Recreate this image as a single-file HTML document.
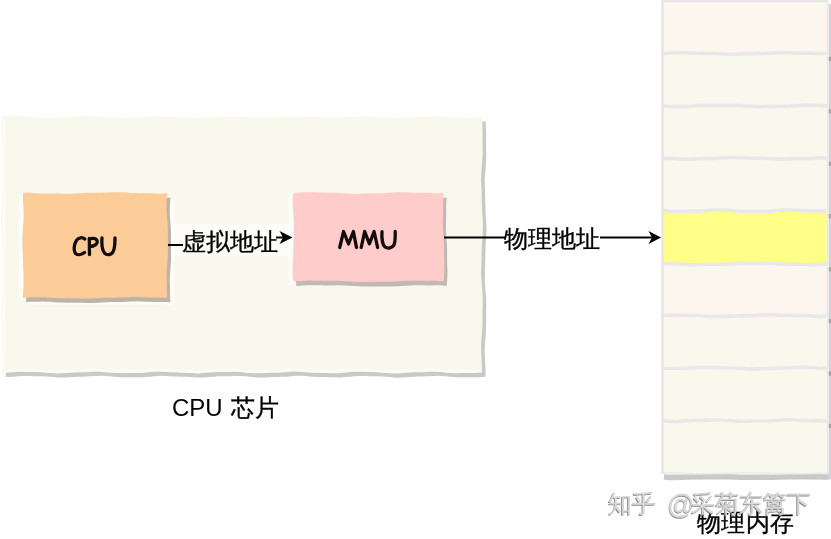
<!DOCTYPE html>
<html><head><meta charset="utf-8">
<style>
html,body{margin:0;padding:0;background:#fff;}
body{width:831px;height:539px;overflow:hidden;position:relative;font-family:"Liberation Sans",sans-serif;}
svg{position:absolute;left:0;top:0;}
.t{position:absolute;white-space:nowrap;color:#000;line-height:1;will-change:transform;}
.s{-webkit-text-stroke:0.35px #000;}
.wm{color:#dcdcdc;text-shadow:-0.6px 0.6px 0.6px #8a8a8a;-webkit-text-stroke:0.3px #bdbdbd;}
</style></head><body>
<svg width="831" height="539" viewBox="0 0 831 539">
  <path d="M2.00 117.00 L6.00 116.61 L10.00 116.16 L14.00 116.05 L18.00 116.12 L22.00 116.36 L26.00 116.69 L30.00 117.03 L34.00 117.32 L38.00 117.51 L42.00 117.59 L46.00 117.60 L50.00 117.56 L54.00 117.51 L58.00 117.45 L62.00 117.36 L66.00 117.23 L70.00 117.02 L74.00 116.75 L78.00 116.46 L82.00 116.22 L86.00 116.09 L90.00 116.13 L94.00 116.34 L98.00 116.67 L102.00 117.06 L106.00 117.42 L110.00 117.66 L114.00 117.77 L118.00 117.74 L122.00 117.61 L126.00 117.45 L130.00 117.29 L134.00 117.15 L138.00 117.01 L142.00 116.86 L146.00 116.69 L150.00 116.49 L154.00 116.31 L158.00 116.20 L162.00 116.21 L166.00 116.38 L170.00 116.68 L174.00 117.06 L178.00 117.44 L182.00 117.74 L186.00 117.88 L190.00 117.86 L194.00 117.69 L198.00 117.45 L202.00 117.18 L206.00 116.95 L210.00 116.78 L214.00 116.67 L218.00 116.57 L222.00 116.49 L226.00 116.40 L230.00 116.35 L234.00 116.37 L238.00 116.49 L242.00 116.73 L246.00 117.07 L250.00 117.43 L254.00 117.74 L258.00 117.92 L262.00 117.93 L266.00 117.76 L270.00 117.47 L274.00 117.13 L278.00 116.82 L282.00 116.59 L286.00 116.46 L290.00 116.42 L294.00 116.43 L298.00 116.46 L302.00 116.50 L306.00 116.57 L310.00 116.67 L314.00 116.85 L318.00 117.11 L322.00 117.41 L326.00 117.69 L330.00 117.88 L334.00 117.92 L338.00 117.78 L342.00 117.50 L346.00 117.12 L350.00 116.74 L354.00 116.45 L358.00 116.28 L362.00 116.25 L366.00 116.33 L370.00 116.47 L374.00 116.63 L378.00 116.77 L382.00 116.90 L386.00 117.04 L390.00 117.21 L394.00 117.41 L398.00 117.62 L402.00 117.78 L406.00 117.83 L410.00 117.73 L414.00 117.48 L418.00 117.12 L422.00 116.73 L426.00 116.39 L430.00 116.17 L434.00 116.12 L438.00 116.23 L442.00 116.44 L446.00 116.69 L450.00 116.93 L454.00 117.12 L458.00 117.26 L462.00 117.36 L466.00 117.46 L470.00 117.56 L474.00 117.65 L478.00 117.45 L482.00 117.00 L482.12 121.06 L482.42 125.11 L482.53 129.17 L482.55 133.22 L482.54 137.28 L482.55 141.33 L482.60 145.39 L482.64 149.44 L482.62 153.50 L482.48 157.56 L482.21 161.61 L481.85 165.67 L481.49 169.72 L481.24 173.78 L481.15 177.83 L481.21 181.89 L481.36 185.94 L481.53 190.00 L481.66 194.06 L481.74 198.11 L481.81 202.17 L481.93 206.22 L482.14 210.28 L482.41 214.33 L482.70 218.39 L482.90 222.44 L482.94 226.50 L482.81 230.56 L482.55 234.61 L482.25 238.67 L481.98 242.72 L481.80 246.78 L481.71 250.83 L481.65 254.89 L481.57 258.94 L481.45 263.00 L481.30 267.06 L481.19 271.11 L481.21 275.17 L481.38 279.22 L481.68 283.28 L482.06 287.33 L482.39 291.39 L482.61 295.44 L482.69 299.50 L482.66 303.56 L482.59 307.61 L482.53 311.67 L482.51 315.72 L482.50 319.78 L482.44 323.83 L482.27 327.89 L482.00 331.94 L481.65 336.00 L481.33 340.06 L481.13 344.11 L481.09 348.17 L481.21 352.22 L481.43 356.28 L481.65 360.33 L481.83 364.39 L481.96 368.44 L482.00 372.50 L478.00 372.73 L474.00 372.99 L470.00 373.01 L466.00 373.03 L462.00 373.10 L458.00 373.17 L454.00 373.14 L450.00 372.92 L446.00 372.53 L442.00 372.08 L438.00 371.76 L434.00 371.65 L430.00 371.76 L426.00 371.96 L422.00 372.14 L418.00 372.25 L414.00 372.35 L410.00 372.52 L406.00 372.81 L402.00 373.15 L398.00 373.40 L394.00 373.43 L390.00 373.21 L386.00 372.84 L382.00 372.47 L378.00 372.23 L374.00 372.12 L370.00 372.07 L366.00 371.98 L362.00 371.85 L358.00 371.74 L354.00 371.80 L350.00 372.06 L346.00 372.49 L342.00 372.92 L338.00 373.21 L334.00 373.27 L330.00 373.17 L326.00 373.02 L322.00 372.92 L318.00 372.86 L314.00 372.75 L310.00 372.53 L306.00 372.18 L302.00 371.81 L298.00 371.58 L294.00 371.59 L290.00 371.83 L286.00 372.18 L282.00 372.48 L278.00 372.67 L274.00 372.77 L270.00 372.87 L266.00 373.03 L262.00 373.22 L258.00 373.33 L254.00 373.24 L250.00 372.93 L246.00 372.49 L242.00 372.09 L238.00 371.85 L234.00 371.81 L230.00 371.89 L226.00 371.97 L222.00 372.00 L218.00 372.03 L214.00 372.16 L210.00 372.44 L206.00 372.84 L202.00 373.22 L198.00 373.42 L194.00 373.37 L190.00 373.12 L186.00 372.82 L182.00 372.58 L178.00 372.44 L174.00 372.34 L170.00 372.18 L166.00 371.95 L162.00 371.71 L158.00 371.61 L154.00 371.74 L150.00 372.09 L146.00 372.52 L142.00 372.88 L138.00 373.07 L134.00 373.09 L130.00 373.06 L126.00 373.05 L122.00 373.08 L118.00 373.07 L114.00 372.90 L110.00 372.56 L106.00 372.13 L102.00 371.77 L98.00 371.61 L94.00 371.69 L90.00 371.92 L86.00 372.16 L82.00 372.33 L78.00 372.44 L74.00 372.57 L70.00 372.79 L66.00 373.09 L62.00 373.35 L58.00 373.42 L54.00 373.25 L50.00 372.89 L46.00 372.48 L42.00 372.18 L38.00 372.03 L34.00 372.00 L30.00 371.97 L26.00 371.90 L22.00 371.82 L18.00 371.85 L14.00 372.06 L10.00 372.45 L6.00 372.76 L2.00 372.50 L2.36 368.44 L2.58 364.39 L2.63 360.33 L2.57 356.28 L2.36 352.22 L2.03 348.17 L1.69 344.11 L1.46 340.06 L1.38 336.00 L1.41 331.94 L1.46 327.89 L1.45 323.83 L1.34 319.78 L1.23 315.72 L1.21 311.67 L1.36 307.61 L1.65 303.56 L1.98 299.50 L2.25 295.44 L2.38 291.39 L2.40 287.33 L2.39 283.28 L2.46 279.22 L2.61 275.17 L2.80 271.11 L2.91 267.06 L2.85 263.00 L2.63 258.94 L2.32 254.89 L2.06 250.83 L1.90 246.78 L1.85 242.72 L1.83 238.67 L1.74 234.61 L1.55 230.56 L1.30 226.50 L1.10 222.44 L1.06 218.39 L1.19 214.33 L1.44 210.28 L1.68 206.22 L1.82 202.17 L1.87 198.11 L1.90 194.06 L1.99 190.00 L2.20 185.94 L2.50 181.89 L2.77 177.83 L2.91 173.78 L2.87 169.72 L2.71 165.67 L2.52 161.61 L2.40 157.56 L2.37 153.50 L2.37 149.44 L2.31 145.39 L2.10 141.33 L1.79 137.28 L1.46 133.22 L1.24 129.17 L1.19 125.11 L1.51 121.06 Z" fill="#c9c9c5" transform="translate(3.6 4.2)"/>
  <path d="M2.00 117.00 L6.00 116.61 L10.00 116.16 L14.00 116.05 L18.00 116.12 L22.00 116.36 L26.00 116.69 L30.00 117.03 L34.00 117.32 L38.00 117.51 L42.00 117.59 L46.00 117.60 L50.00 117.56 L54.00 117.51 L58.00 117.45 L62.00 117.36 L66.00 117.23 L70.00 117.02 L74.00 116.75 L78.00 116.46 L82.00 116.22 L86.00 116.09 L90.00 116.13 L94.00 116.34 L98.00 116.67 L102.00 117.06 L106.00 117.42 L110.00 117.66 L114.00 117.77 L118.00 117.74 L122.00 117.61 L126.00 117.45 L130.00 117.29 L134.00 117.15 L138.00 117.01 L142.00 116.86 L146.00 116.69 L150.00 116.49 L154.00 116.31 L158.00 116.20 L162.00 116.21 L166.00 116.38 L170.00 116.68 L174.00 117.06 L178.00 117.44 L182.00 117.74 L186.00 117.88 L190.00 117.86 L194.00 117.69 L198.00 117.45 L202.00 117.18 L206.00 116.95 L210.00 116.78 L214.00 116.67 L218.00 116.57 L222.00 116.49 L226.00 116.40 L230.00 116.35 L234.00 116.37 L238.00 116.49 L242.00 116.73 L246.00 117.07 L250.00 117.43 L254.00 117.74 L258.00 117.92 L262.00 117.93 L266.00 117.76 L270.00 117.47 L274.00 117.13 L278.00 116.82 L282.00 116.59 L286.00 116.46 L290.00 116.42 L294.00 116.43 L298.00 116.46 L302.00 116.50 L306.00 116.57 L310.00 116.67 L314.00 116.85 L318.00 117.11 L322.00 117.41 L326.00 117.69 L330.00 117.88 L334.00 117.92 L338.00 117.78 L342.00 117.50 L346.00 117.12 L350.00 116.74 L354.00 116.45 L358.00 116.28 L362.00 116.25 L366.00 116.33 L370.00 116.47 L374.00 116.63 L378.00 116.77 L382.00 116.90 L386.00 117.04 L390.00 117.21 L394.00 117.41 L398.00 117.62 L402.00 117.78 L406.00 117.83 L410.00 117.73 L414.00 117.48 L418.00 117.12 L422.00 116.73 L426.00 116.39 L430.00 116.17 L434.00 116.12 L438.00 116.23 L442.00 116.44 L446.00 116.69 L450.00 116.93 L454.00 117.12 L458.00 117.26 L462.00 117.36 L466.00 117.46 L470.00 117.56 L474.00 117.65 L478.00 117.45 L482.00 117.00 L482.12 121.06 L482.42 125.11 L482.53 129.17 L482.55 133.22 L482.54 137.28 L482.55 141.33 L482.60 145.39 L482.64 149.44 L482.62 153.50 L482.48 157.56 L482.21 161.61 L481.85 165.67 L481.49 169.72 L481.24 173.78 L481.15 177.83 L481.21 181.89 L481.36 185.94 L481.53 190.00 L481.66 194.06 L481.74 198.11 L481.81 202.17 L481.93 206.22 L482.14 210.28 L482.41 214.33 L482.70 218.39 L482.90 222.44 L482.94 226.50 L482.81 230.56 L482.55 234.61 L482.25 238.67 L481.98 242.72 L481.80 246.78 L481.71 250.83 L481.65 254.89 L481.57 258.94 L481.45 263.00 L481.30 267.06 L481.19 271.11 L481.21 275.17 L481.38 279.22 L481.68 283.28 L482.06 287.33 L482.39 291.39 L482.61 295.44 L482.69 299.50 L482.66 303.56 L482.59 307.61 L482.53 311.67 L482.51 315.72 L482.50 319.78 L482.44 323.83 L482.27 327.89 L482.00 331.94 L481.65 336.00 L481.33 340.06 L481.13 344.11 L481.09 348.17 L481.21 352.22 L481.43 356.28 L481.65 360.33 L481.83 364.39 L481.96 368.44 L482.00 372.50 L478.00 372.73 L474.00 372.99 L470.00 373.01 L466.00 373.03 L462.00 373.10 L458.00 373.17 L454.00 373.14 L450.00 372.92 L446.00 372.53 L442.00 372.08 L438.00 371.76 L434.00 371.65 L430.00 371.76 L426.00 371.96 L422.00 372.14 L418.00 372.25 L414.00 372.35 L410.00 372.52 L406.00 372.81 L402.00 373.15 L398.00 373.40 L394.00 373.43 L390.00 373.21 L386.00 372.84 L382.00 372.47 L378.00 372.23 L374.00 372.12 L370.00 372.07 L366.00 371.98 L362.00 371.85 L358.00 371.74 L354.00 371.80 L350.00 372.06 L346.00 372.49 L342.00 372.92 L338.00 373.21 L334.00 373.27 L330.00 373.17 L326.00 373.02 L322.00 372.92 L318.00 372.86 L314.00 372.75 L310.00 372.53 L306.00 372.18 L302.00 371.81 L298.00 371.58 L294.00 371.59 L290.00 371.83 L286.00 372.18 L282.00 372.48 L278.00 372.67 L274.00 372.77 L270.00 372.87 L266.00 373.03 L262.00 373.22 L258.00 373.33 L254.00 373.24 L250.00 372.93 L246.00 372.49 L242.00 372.09 L238.00 371.85 L234.00 371.81 L230.00 371.89 L226.00 371.97 L222.00 372.00 L218.00 372.03 L214.00 372.16 L210.00 372.44 L206.00 372.84 L202.00 373.22 L198.00 373.42 L194.00 373.37 L190.00 373.12 L186.00 372.82 L182.00 372.58 L178.00 372.44 L174.00 372.34 L170.00 372.18 L166.00 371.95 L162.00 371.71 L158.00 371.61 L154.00 371.74 L150.00 372.09 L146.00 372.52 L142.00 372.88 L138.00 373.07 L134.00 373.09 L130.00 373.06 L126.00 373.05 L122.00 373.08 L118.00 373.07 L114.00 372.90 L110.00 372.56 L106.00 372.13 L102.00 371.77 L98.00 371.61 L94.00 371.69 L90.00 371.92 L86.00 372.16 L82.00 372.33 L78.00 372.44 L74.00 372.57 L70.00 372.79 L66.00 373.09 L62.00 373.35 L58.00 373.42 L54.00 373.25 L50.00 372.89 L46.00 372.48 L42.00 372.18 L38.00 372.03 L34.00 372.00 L30.00 371.97 L26.00 371.90 L22.00 371.82 L18.00 371.85 L14.00 372.06 L10.00 372.45 L6.00 372.76 L2.00 372.50 L2.36 368.44 L2.58 364.39 L2.63 360.33 L2.57 356.28 L2.36 352.22 L2.03 348.17 L1.69 344.11 L1.46 340.06 L1.38 336.00 L1.41 331.94 L1.46 327.89 L1.45 323.83 L1.34 319.78 L1.23 315.72 L1.21 311.67 L1.36 307.61 L1.65 303.56 L1.98 299.50 L2.25 295.44 L2.38 291.39 L2.40 287.33 L2.39 283.28 L2.46 279.22 L2.61 275.17 L2.80 271.11 L2.91 267.06 L2.85 263.00 L2.63 258.94 L2.32 254.89 L2.06 250.83 L1.90 246.78 L1.85 242.72 L1.83 238.67 L1.74 234.61 L1.55 230.56 L1.30 226.50 L1.10 222.44 L1.06 218.39 L1.19 214.33 L1.44 210.28 L1.68 206.22 L1.82 202.17 L1.87 198.11 L1.90 194.06 L1.99 190.00 L2.20 185.94 L2.50 181.89 L2.77 177.83 L2.91 173.78 L2.87 169.72 L2.71 165.67 L2.52 161.61 L2.40 157.56 L2.37 153.50 L2.37 149.44 L2.31 145.39 L2.10 141.33 L1.79 137.28 L1.46 133.22 L1.24 129.17 L1.19 125.11 L1.51 121.06 Z" fill="#f9f8ed"/>
  <rect x="2" y="119" width="3.5" height="251" fill="#fcfbf5" opacity="0.8"/>
  <path d="M4.00 370.80 L8.00 370.57 L12.00 370.31 L16.00 370.29 L20.00 370.27 L24.00 370.20 L28.00 370.13 L32.00 370.16 L36.00 370.38 L40.00 370.77 L44.00 371.22 L48.00 371.54 L52.00 371.65 L56.00 371.54 L60.00 371.34 L64.00 371.16 L68.00 371.05 L72.00 370.95 L76.00 370.78 L80.00 370.49 L84.00 370.15 L88.00 369.90 L92.00 369.87 L96.00 370.09 L100.00 370.46 L104.00 370.83 L108.00 371.07 L112.00 371.18 L116.00 371.23 L120.00 371.32 L124.00 371.45 L128.00 371.56 L132.00 371.50 L136.00 371.24 L140.00 370.81 L144.00 370.38 L148.00 370.09 L152.00 370.03 L156.00 370.13 L160.00 370.28 L164.00 370.38 L168.00 370.44 L172.00 370.55 L176.00 370.77 L180.00 371.12 L184.00 371.49 L188.00 371.72 L192.00 371.71 L196.00 371.47 L200.00 371.12 L204.00 370.82 L208.00 370.63 L212.00 370.53 L216.00 370.43 L220.00 370.27 L224.00 370.08 L228.00 369.97 L232.00 370.06 L236.00 370.37 L240.00 370.81 L244.00 371.21 L248.00 371.45 L252.00 371.49 L256.00 371.41 L260.00 371.33 L264.00 371.30 L268.00 371.27 L272.00 371.14 L276.00 370.86 L280.00 370.46 L284.00 370.08 L288.00 369.88 L292.00 369.93 L296.00 370.18 L300.00 370.48 L304.00 370.72 L308.00 370.86 L312.00 370.96 L316.00 371.12 L320.00 371.35 L324.00 371.59 L328.00 371.69 L332.00 371.56 L336.00 371.21 L340.00 370.78 L344.00 370.42 L348.00 370.23 L352.00 370.21 L356.00 370.24 L360.00 370.25 L364.00 370.22 L368.00 370.23 L372.00 370.40 L376.00 370.74 L380.00 371.17 L384.00 371.53 L388.00 371.69 L392.00 371.61 L396.00 371.38 L400.00 371.14 L404.00 370.97 L408.00 370.86 L412.00 370.73 L416.00 370.51 L420.00 370.21 L424.00 369.95 L428.00 369.88 L432.00 370.05 L436.00 370.41 L440.00 370.82 L444.00 371.12 L448.00 371.27 L452.00 371.30 L456.00 371.33 L460.00 371.40 L464.00 371.48 L468.00 371.45 L472.00 371.24 L476.00 370.84 L480.00 370.80" stroke="#fcfbf5" stroke-width="2.6" fill="none" opacity="0.8"/>
  <rect x="167.5" y="199" width="7" height="107" fill="#fdfcf6"/>
  <rect x="27" y="302" width="147.5" height="2.5" fill="#fdfcf6"/>
  <rect x="19" y="193" width="4" height="105" fill="#fdfcf6"/>
  <path d="M23.00 193.00 L27.01 192.73 L31.02 192.86 L35.02 193.16 L39.03 193.41 L43.04 193.54 L47.05 193.55 L51.06 193.50 L55.07 193.48 L59.08 193.53 L63.08 193.63 L67.09 193.71 L71.10 193.69 L75.11 193.53 L79.12 193.27 L83.12 192.98 L87.13 192.76 L91.14 192.65 L95.15 192.64 L99.16 192.64 L103.17 192.59 L107.18 192.47 L111.18 192.30 L115.19 192.19 L119.20 192.21 L123.21 192.37 L127.22 192.63 L131.23 192.88 L135.23 193.05 L139.24 193.13 L143.25 193.14 L147.26 193.18 L151.27 193.31 L155.28 193.50 L159.28 193.71 L163.29 193.56 L167.30 193.00 L166.97 197.03 L166.68 201.06 L166.58 205.09 L166.60 209.12 L166.77 213.15 L167.08 217.18 L167.42 221.22 L167.68 225.25 L167.81 229.28 L167.83 233.31 L167.79 237.34 L167.80 241.37 L167.85 245.40 L167.91 249.43 L167.90 253.46 L167.75 257.49 L167.46 261.52 L167.11 265.55 L166.82 269.58 L166.66 273.62 L166.65 277.65 L166.73 281.68 L166.81 285.71 L166.83 289.74 L166.97 293.77 L167.30 297.80 L163.29 297.70 L159.28 297.57 L155.28 297.57 L151.27 297.55 L147.26 297.45 L143.25 297.27 L139.24 297.07 L135.23 296.95 L131.23 296.99 L127.22 297.16 L123.21 297.38 L119.20 297.57 L115.19 297.65 L111.18 297.67 L107.18 297.69 L103.17 297.79 L99.16 298.01 L95.15 298.28 L91.14 298.50 L87.13 298.60 L83.12 298.55 L79.12 298.41 L75.11 298.28 L71.10 298.23 L67.09 298.25 L63.08 298.27 L59.08 298.22 L55.07 298.03 L51.06 297.75 L47.05 297.46 L43.04 297.27 L39.03 297.21 L35.03 297.25 L31.02 297.31 L27.01 297.47 L23.00 297.80 L23.01 293.77 L23.37 289.74 L23.61 285.71 L23.70 281.68 L23.65 277.65 L23.50 273.62 L23.33 269.58 L23.17 265.55 L23.02 261.52 L22.88 257.49 L22.73 253.46 L22.55 249.43 L22.39 245.40 L22.30 241.37 L22.34 237.34 L22.53 233.31 L22.86 229.28 L23.24 225.25 L23.59 221.22 L23.79 217.18 L23.81 213.15 L23.66 209.12 L23.40 205.09 L23.11 201.06 L22.91 197.03 Z" fill="#bcb4a8" transform="translate(3.2 4.4)"/>
  <path d="M23.00 193.00 L27.01 192.73 L31.02 192.86 L35.02 193.16 L39.03 193.41 L43.04 193.54 L47.05 193.55 L51.06 193.50 L55.07 193.48 L59.08 193.53 L63.08 193.63 L67.09 193.71 L71.10 193.69 L75.11 193.53 L79.12 193.27 L83.12 192.98 L87.13 192.76 L91.14 192.65 L95.15 192.64 L99.16 192.64 L103.17 192.59 L107.18 192.47 L111.18 192.30 L115.19 192.19 L119.20 192.21 L123.21 192.37 L127.22 192.63 L131.23 192.88 L135.23 193.05 L139.24 193.13 L143.25 193.14 L147.26 193.18 L151.27 193.31 L155.28 193.50 L159.28 193.71 L163.29 193.56 L167.30 193.00 L166.97 197.03 L166.68 201.06 L166.58 205.09 L166.60 209.12 L166.77 213.15 L167.08 217.18 L167.42 221.22 L167.68 225.25 L167.81 229.28 L167.83 233.31 L167.79 237.34 L167.80 241.37 L167.85 245.40 L167.91 249.43 L167.90 253.46 L167.75 257.49 L167.46 261.52 L167.11 265.55 L166.82 269.58 L166.66 273.62 L166.65 277.65 L166.73 281.68 L166.81 285.71 L166.83 289.74 L166.97 293.77 L167.30 297.80 L163.29 297.70 L159.28 297.57 L155.28 297.57 L151.27 297.55 L147.26 297.45 L143.25 297.27 L139.24 297.07 L135.23 296.95 L131.23 296.99 L127.22 297.16 L123.21 297.38 L119.20 297.57 L115.19 297.65 L111.18 297.67 L107.18 297.69 L103.17 297.79 L99.16 298.01 L95.15 298.28 L91.14 298.50 L87.13 298.60 L83.12 298.55 L79.12 298.41 L75.11 298.28 L71.10 298.23 L67.09 298.25 L63.08 298.27 L59.08 298.22 L55.07 298.03 L51.06 297.75 L47.05 297.46 L43.04 297.27 L39.03 297.21 L35.03 297.25 L31.02 297.31 L27.01 297.47 L23.00 297.80 L23.01 293.77 L23.37 289.74 L23.61 285.71 L23.70 281.68 L23.65 277.65 L23.50 273.62 L23.33 269.58 L23.17 265.55 L23.02 261.52 L22.88 257.49 L22.73 253.46 L22.55 249.43 L22.39 245.40 L22.30 241.37 L22.34 237.34 L22.53 233.31 L22.86 229.28 L23.24 225.25 L23.59 221.22 L23.79 217.18 L23.81 213.15 L23.66 209.12 L23.40 205.09 L23.11 201.06 L22.91 197.03 Z" fill="#fbcb98"/>
  <rect x="288.5" y="193" width="4.8" height="92" fill="#fdfcf6"/>
  <path d="M293.30 193.00 L297.36 192.83 L301.42 192.46 L305.49 192.24 L309.55 192.18 L313.61 192.28 L317.67 192.45 L321.74 192.62 L325.80 192.71 L329.86 192.74 L333.92 192.78 L337.98 192.91 L342.05 193.15 L346.11 193.45 L350.17 193.70 L354.23 193.81 L358.29 193.76 L362.36 193.60 L366.42 193.43 L370.48 193.32 L374.54 193.29 L378.61 193.26 L382.67 193.16 L386.73 192.95 L390.79 192.65 L394.85 192.37 L398.92 192.21 L402.98 192.21 L407.04 192.35 L411.10 192.52 L415.16 192.64 L419.23 192.69 L423.29 192.70 L427.35 192.77 L431.41 192.96 L435.48 193.24 L439.54 193.36 L443.60 193.00 L443.33 197.01 L443.09 201.03 L443.10 205.04 L443.13 209.05 L443.11 213.07 L443.01 217.08 L442.91 221.10 L442.89 225.11 L443.03 229.12 L443.31 233.14 L443.63 237.15 L443.88 241.16 L444.00 245.18 L444.02 249.19 L444.01 253.20 L444.06 257.22 L444.18 261.23 L444.32 265.25 L444.37 269.26 L444.27 273.27 L443.88 277.29 L443.60 281.30 L439.54 280.89 L435.48 280.69 L431.41 280.75 L427.35 280.80 L423.29 280.80 L419.23 280.75 L415.16 280.69 L411.10 280.70 L407.04 280.82 L402.98 281.05 L398.92 281.35 L394.85 281.62 L390.79 281.80 L386.73 281.87 L382.67 281.86 L378.61 281.81 L374.54 281.79 L370.48 281.83 L366.42 281.91 L362.36 281.95 L358.29 281.91 L354.23 281.74 L350.17 281.48 L346.11 281.18 L342.05 280.94 L337.98 280.80 L333.92 280.77 L329.86 280.80 L325.80 280.82 L321.74 280.80 L317.67 280.72 L313.61 280.63 L309.55 280.61 L305.49 280.70 L301.42 280.91 L297.36 281.23 L293.30 281.30 L292.86 277.29 L292.55 273.27 L292.59 269.26 L292.73 265.25 L292.90 261.23 L293.06 257.22 L293.18 253.20 L293.29 249.19 L293.41 245.18 L293.56 241.16 L293.75 237.15 L293.94 233.14 L294.06 229.12 L294.06 225.11 L293.91 221.10 L293.63 217.08 L293.29 213.07 L292.95 209.05 L292.72 205.04 L292.61 201.03 L292.85 197.01 Z" fill="#c2b9b4" transform="translate(3.1 4.6)"/>
  <path d="M293.30 193.00 L297.36 192.83 L301.42 192.46 L305.49 192.24 L309.55 192.18 L313.61 192.28 L317.67 192.45 L321.74 192.62 L325.80 192.71 L329.86 192.74 L333.92 192.78 L337.98 192.91 L342.05 193.15 L346.11 193.45 L350.17 193.70 L354.23 193.81 L358.29 193.76 L362.36 193.60 L366.42 193.43 L370.48 193.32 L374.54 193.29 L378.61 193.26 L382.67 193.16 L386.73 192.95 L390.79 192.65 L394.85 192.37 L398.92 192.21 L402.98 192.21 L407.04 192.35 L411.10 192.52 L415.16 192.64 L419.23 192.69 L423.29 192.70 L427.35 192.77 L431.41 192.96 L435.48 193.24 L439.54 193.36 L443.60 193.00 L443.33 197.01 L443.09 201.03 L443.10 205.04 L443.13 209.05 L443.11 213.07 L443.01 217.08 L442.91 221.10 L442.89 225.11 L443.03 229.12 L443.31 233.14 L443.63 237.15 L443.88 241.16 L444.00 245.18 L444.02 249.19 L444.01 253.20 L444.06 257.22 L444.18 261.23 L444.32 265.25 L444.37 269.26 L444.27 273.27 L443.88 277.29 L443.60 281.30 L439.54 280.89 L435.48 280.69 L431.41 280.75 L427.35 280.80 L423.29 280.80 L419.23 280.75 L415.16 280.69 L411.10 280.70 L407.04 280.82 L402.98 281.05 L398.92 281.35 L394.85 281.62 L390.79 281.80 L386.73 281.87 L382.67 281.86 L378.61 281.81 L374.54 281.79 L370.48 281.83 L366.42 281.91 L362.36 281.95 L358.29 281.91 L354.23 281.74 L350.17 281.48 L346.11 281.18 L342.05 280.94 L337.98 280.80 L333.92 280.77 L329.86 280.80 L325.80 280.82 L321.74 280.80 L317.67 280.72 L313.61 280.63 L309.55 280.61 L305.49 280.70 L301.42 280.91 L297.36 281.23 L293.30 281.30 L292.86 277.29 L292.55 273.27 L292.59 269.26 L292.73 265.25 L292.90 261.23 L293.06 257.22 L293.18 253.20 L293.29 249.19 L293.41 245.18 L293.56 241.16 L293.75 237.15 L293.94 233.14 L294.06 229.12 L294.06 225.11 L293.91 221.10 L293.63 217.08 L293.29 213.07 L292.95 209.05 L292.72 205.04 L292.61 201.03 L292.85 197.01 Z" fill="#ffcccc"/>
  <rect x="171" y="224" width="120" height="32" fill="#ffffff" opacity="0.6"/>
  <line x1="168" y1="245" x2="183" y2="245" stroke="#000" stroke-width="2"/>
  <line x1="276" y1="237.5" x2="284" y2="237.5" stroke="#000" stroke-width="2"/>
  <path d="M279.5 231 L292.5 237.5 L279.5 244 L283 237.5 Z" fill="#000"/>
  <line x1="444" y1="237.5" x2="505" y2="237.5" stroke="#000" stroke-width="2"/>
  <line x1="600" y1="237.5" x2="652" y2="237.5" stroke="#000" stroke-width="2"/>
  <path d="M648.5 231 L661 237.5 L648.5 244 L652 237.5 Z" fill="#000"/>
  <path d="M664 474.5 L828.6 474.5 L828.6 479.5 L664 479.5 Z" fill="#c9c9c9"/>
  <path d="M664.00 477.00 L668.01 477.57 L672.03 477.81 L676.04 477.65 L680.06 477.40 L684.07 477.14 L688.09 476.93 L692.10 476.80 L696.12 476.73 L700.13 476.69 L704.15 476.62 L708.16 476.52 L712.18 476.39 L716.19 476.28 L720.20 476.26 L724.22 476.36 L728.23 476.58 L732.25 476.87 L736.26 477.18 L740.28 477.42 L744.29 477.55 L748.31 477.58 L752.32 477.55 L756.34 477.51 L760.35 477.49 L764.37 477.50 L768.38 477.51 L772.40 477.47 L776.41 477.34 L780.42 477.11 L784.44 476.81 L788.45 476.52 L792.47 476.30 L796.48 476.21 L800.50 476.25 L804.51 476.38 L808.53 476.54 L812.54 476.68 L816.56 476.77 L820.57 476.83 L824.59 476.93 L828.60 477.00" stroke="#c9c9c9" stroke-width="5" fill="none"/>
  <rect x="828.6" y="4" width="2.4" height="475.5" fill="#d4d4d4"/>
  <rect x="828.6" y="56.75" width="2.4" height="4.2" fill="#a4a4a4"/>
  <rect x="828.6" y="109.20" width="2.4" height="4.2" fill="#a4a4a4"/>
  <rect x="828.6" y="161.65" width="2.4" height="4.2" fill="#a4a4a4"/>
  <rect x="828.6" y="214.10" width="2.4" height="4.2" fill="#a4a4a4"/>
  <rect x="828.6" y="267.30" width="2.4" height="4.2" fill="#a4a4a4"/>
  <rect x="828.6" y="319.00" width="2.4" height="4.2" fill="#a4a4a4"/>
  <rect x="828.6" y="371.45" width="2.4" height="4.2" fill="#a4a4a4"/>
  <rect x="828.6" y="423.90" width="2.4" height="4.2" fill="#a4a4a4"/>
  <rect x="826.2" y="0" width="2.4" height="474" fill="#eaeaea"/>
  <rect x="662" y="1.00" width="164.5" height="52.45" fill="#fcf6ee"/>
  <rect x="662" y="53.45" width="164.5" height="52.45" fill="#f9f8ed"/>
  <rect x="662" y="105.90" width="164.5" height="52.45" fill="#f9f8ed"/>
  <rect x="662" y="158.35" width="164.5" height="52.45" fill="#f9f8ed"/>
  <rect x="662" y="210.80" width="164.5" height="53.20" fill="#ffff88"/>
  <rect x="662" y="264.00" width="164.5" height="51.70" fill="#fcf6ee"/>
  <rect x="662" y="315.70" width="164.5" height="52.45" fill="#f9f8ed"/>
  <rect x="662" y="368.15" width="164.5" height="52.45" fill="#f9f8ed"/>
  <rect x="662" y="420.60" width="164.5" height="52.45" fill="#f9f8ed"/>
  <path d="M662.00 53.45 L666.01 53.25 L670.02 52.96 L674.04 52.76 L678.05 52.62 L682.06 52.61 L686.07 52.72 L690.09 52.93 L694.10 53.14 L698.11 53.31 L702.12 53.39 L706.13 53.43 L710.15 53.46 L714.16 53.57 L718.17 53.75 L722.18 53.97 L726.20 54.18 L730.21 54.29 L734.22 54.27 L738.23 54.14 L742.24 53.94 L746.26 53.76 L750.27 53.64 L754.28 53.59 L758.29 53.57 L762.30 53.51 L766.32 53.36 L770.33 53.14 L774.34 52.89 L778.35 52.70 L782.37 52.61 L786.38 52.67 L790.39 52.81 L794.40 52.99 L798.41 53.12 L802.43 53.19 L806.44 53.21 L810.45 53.24 L814.46 53.34 L818.48 53.53 L822.49 53.67 L826.50 53.45" stroke="#e9e7e9" stroke-width="3.6" fill="none"/>
  <path d="M662.00 105.90 L666.01 106.20 L670.02 106.42 L674.04 106.52 L678.05 106.59 L682.06 106.59 L686.07 106.47 L690.09 106.24 L694.10 105.94 L698.11 105.65 L702.12 105.44 L706.13 105.34 L710.15 105.33 L714.16 105.37 L718.17 105.40 L722.18 105.40 L726.20 105.36 L730.21 105.33 L734.22 105.36 L738.23 105.49 L742.24 105.73 L746.26 106.03 L750.27 106.31 L754.28 106.52 L758.29 106.61 L762.30 106.59 L766.32 106.50 L770.33 106.40 L774.34 106.33 L778.35 106.31 L782.37 106.30 L786.38 106.25 L790.39 106.12 L794.40 105.90 L798.41 105.62 L802.43 105.35 L806.44 105.16 L810.45 105.10 L814.46 105.15 L818.48 105.30 L822.49 105.60 L826.50 105.90" stroke="#e9e7e9" stroke-width="3.6" fill="none"/>
  <path d="M662.00 158.35 L666.01 158.34 L670.02 158.43 L674.04 158.61 L678.05 158.86 L682.06 159.09 L686.07 159.20 L690.09 159.15 L694.10 158.97 L698.11 158.76 L702.12 158.59 L706.13 158.51 L710.15 158.48 L714.16 158.43 L718.17 158.28 L722.18 158.03 L726.20 157.76 L730.21 157.57 L734.22 157.52 L738.23 157.62 L742.24 157.81 L746.26 157.98 L750.27 158.07 L754.28 158.10 L758.29 158.13 L762.30 158.24 L766.32 158.45 L770.33 158.74 L774.34 159.00 L778.35 159.14 L782.37 159.13 L786.38 159.00 L790.39 158.84 L794.40 158.73 L798.41 158.70 L802.43 158.69 L806.44 158.63 L810.45 158.46 L814.46 158.19 L818.48 157.89 L822.49 157.89 L826.50 158.35" stroke="#e9e7e9" stroke-width="3.6" fill="none"/>
  <path d="M662.00 210.80 L666.01 210.84 L670.02 211.22 L674.04 211.47 L678.05 211.55 L682.06 211.47 L686.07 211.32 L690.09 211.16 L694.10 211.04 L698.11 210.95 L702.12 210.84 L706.13 210.66 L710.15 210.42 L714.16 210.17 L718.17 210.00 L722.18 209.98 L726.20 210.15 L730.21 210.46 L734.22 210.81 L738.23 211.10 L742.24 211.26 L746.26 211.31 L750.27 211.30 L754.28 211.30 L758.29 211.31 L762.30 211.32 L766.32 211.26 L770.33 211.08 L774.34 210.78 L778.35 210.43 L782.37 210.13 L786.38 209.98 L790.39 210.01 L794.40 210.19 L798.41 210.45 L802.43 210.68 L806.44 210.84 L810.45 210.95 L814.46 211.04 L818.48 211.17 L822.49 211.16 L826.50 210.80" stroke="#e9e7e9" stroke-width="3.6" fill="none"/>
  <path d="M662.00 264.00 L666.01 263.79 L670.02 263.69 L674.04 263.78 L678.05 263.97 L682.06 264.24 L686.07 264.51 L690.09 264.70 L694.10 264.74 L698.11 264.67 L702.12 264.56 L706.13 264.48 L710.15 264.47 L714.16 264.50 L718.17 264.52 L722.18 264.44 L726.20 264.24 L730.21 263.95 L734.22 263.67 L738.23 263.47 L742.24 263.40 L746.26 263.43 L750.27 263.49 L754.28 263.51 L758.29 263.45 L762.30 263.36 L766.32 263.31 L770.33 263.37 L774.34 263.56 L778.35 263.84 L782.37 264.12 L786.38 264.32 L790.39 264.40 L794.40 264.40 L798.41 264.39 L802.43 264.44 L806.44 264.56 L810.45 264.70 L814.46 264.79 L818.48 264.76 L822.49 264.40 L826.50 264.00" stroke="#e9e7e9" stroke-width="3.6" fill="none"/>
  <path d="M662.00 315.70 L666.01 315.25 L670.02 315.16 L674.04 315.27 L678.05 315.34 L682.06 315.37 L686.07 315.39 L690.09 315.44 L694.10 315.56 L698.11 315.76 L702.12 316.00 L706.13 316.24 L710.15 316.43 L714.16 316.52 L718.17 316.49 L722.18 316.38 L726.20 316.23 L730.21 316.08 L734.22 315.98 L738.23 315.93 L742.24 315.89 L746.26 315.84 L750.27 315.73 L754.28 315.56 L758.29 315.33 L762.30 315.11 L766.32 314.93 L770.33 314.86 L774.34 314.89 L778.35 315.03 L782.37 315.20 L786.38 315.38 L790.39 315.51 L794.40 315.58 L798.41 315.63 L802.43 315.68 L806.44 315.77 L810.45 315.92 L814.46 316.12 L818.48 316.33 L822.49 316.23 L826.50 315.70" stroke="#e9e7e9" stroke-width="3.6" fill="none"/>
  <path d="M662.00 368.15 L666.01 368.47 L670.02 368.57 L674.04 368.56 L678.05 368.54 L682.06 368.47 L686.07 368.30 L690.09 368.04 L694.10 367.75 L698.11 367.50 L702.12 367.36 L706.13 367.37 L710.15 367.48 L714.16 367.65 L718.17 367.79 L722.18 367.87 L726.20 367.91 L730.21 367.96 L734.22 368.07 L738.23 368.27 L742.24 368.53 L746.26 368.79 L750.27 368.96 L754.28 368.99 L758.29 368.89 L762.30 368.69 L766.32 368.49 L770.33 368.33 L774.34 368.23 L778.35 368.18 L782.37 368.11 L786.38 367.98 L790.39 367.79 L794.40 367.56 L798.41 367.37 L802.43 367.30 L806.44 367.37 L810.45 367.56 L814.46 367.81 L818.48 368.04 L822.49 368.18 L826.50 368.15" stroke="#e9e7e9" stroke-width="3.6" fill="none"/>
  <path d="M662.00 420.60 L666.01 420.97 L670.02 421.35 L674.04 421.43 L678.05 421.34 L682.06 421.10 L686.07 420.78 L690.09 420.49 L694.10 420.30 L698.11 420.22 L702.12 420.19 L706.13 420.15 L710.15 420.07 L714.16 419.97 L718.17 419.91 L722.18 419.99 L726.20 420.22 L730.21 420.55 L734.22 420.90 L738.23 421.15 L742.24 421.25 L746.26 421.23 L750.27 421.14 L754.28 421.07 L758.29 421.04 L762.30 421.03 L766.32 420.96 L770.33 420.79 L774.34 420.50 L778.35 420.17 L782.37 419.91 L786.38 419.78 L790.39 419.83 L794.40 420.01 L798.41 420.22 L802.43 420.38 L806.44 420.48 L810.45 420.55 L814.46 420.66 L818.48 420.85 L822.49 420.93 L826.50 420.60" stroke="#e9e7e9" stroke-width="3.6" fill="none"/>
  <line x1="662" y1="1" x2="827" y2="1" stroke="#e6e6e6" stroke-width="2.5"/>
  <line x1="662.5" y1="0" x2="662.5" y2="474" stroke="#e6e6e6" stroke-width="2.5"/>
  <path d="M662.00 473.30 L666.02 472.96 L670.05 472.82 L674.07 472.92 L678.10 473.09 L682.12 473.29 L686.15 473.49 L690.17 473.65 L694.20 473.73 L698.22 473.75 L702.24 473.71 L706.27 473.65 L710.29 473.59 L714.32 473.55 L718.34 473.51 L722.37 473.47 L726.39 473.40 L730.41 473.29 L734.44 473.14 L738.46 472.98 L742.49 472.84 L746.51 472.75 L750.54 472.74 L754.56 472.81 L758.59 472.95 L762.61 473.13 L766.63 473.31 L770.66 473.44 L774.68 473.53 L778.71 473.58 L782.73 473.60 L786.76 473.61 L790.78 473.63 L794.80 473.67 L798.83 473.69 L802.85 473.68 L806.88 473.62 L810.90 473.49 L814.93 473.31 L818.95 473.11 L822.98 473.05 L827.00 473.30" stroke="#ececec" stroke-width="1.6" fill="none"/>
  <g fill="none" stroke="#120c0c" stroke-width="3.3" stroke-linecap="round" stroke-linejoin="round">
    <path d="M84.8 239 C82.5 236.9 78.7 237.4 76.5 240.3 C74 244 73.5 250 75.2 253 C77 255.5 81 255 84.5 252.5"/>
    <path d="M89.3 238.5 L89.5 254.5 M89.3 239 C92 238.3 96 238.3 97 240.5 C98 243.5 95 246.5 89.5 246.5"/>
    <path d="M102 238 C101.5 245 102.5 251 105 253.5 C107.5 255.5 111 255 113 252 C114.8 249 115 243 115 237.8"/>
    <path d="M339.7 247.5 L343.6 231.5 L348.5 244 L353.4 231.5 L356.5 247.5"/>
    <path d="M361.2 247.5 L364.7 231.5 L369.4 243.8 L374.1 231.5 L377.6 247.5"/>
    <path d="M382 231.7 C381.5 238 382.5 245 385 247 C388 249 392 248 394 245 C395.3 242 395.3 236 395.2 231.5"/>
  </g>
</svg>
<div class="t" style="left:182px;top:230px;font-size:24px;"><span class="s">虚拟地址</span></div>
<div class="t" style="left:504px;top:227px;font-size:24px;"><span class="s">物理地址</span></div>
<div class="t" style="left:172px;top:396px;font-size:24px;word-spacing:2px;">CPU <span class="s">芯片</span></div>
<div class="t" style="left:697px;top:511px;font-size:24px;letter-spacing:0.4px;"><span class="s">物理内存</span></div>
<div class="t wm" style="left:608px;top:492px;font-size:24px;">知乎</div>
<div class="t wm" style="left:667px;top:492px;font-size:27px;">@</div>
<div class="t wm" style="left:691px;top:492px;font-size:24px;">采菊东篱下</div>
</body></html>
